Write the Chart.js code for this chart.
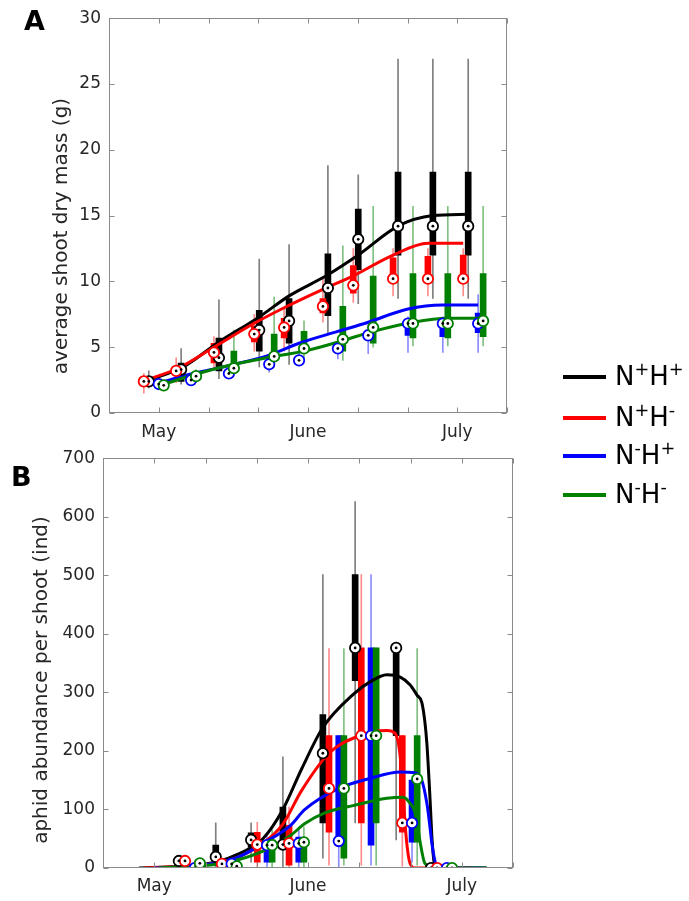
<!DOCTYPE html>
<html>
<head>
<meta charset="utf-8">
<title>Shoot mass and aphid abundance</title>
<script src="https://cdn.jsdelivr.net/npm/chart.js@4.4.1/dist/chart.umd.min.js"></script>
<style>
  body { margin: 0; background: #fff; }
  #page { position: relative; width: 689px; height: 901px; overflow: hidden; font-family: "DejaVu Sans", sans-serif; }
  canvas { position: absolute; left: 0; }
  .panel { position: absolute; font-weight: bold; font-size: 27px; color: #000; line-height: 1; }
  .key { position: absolute; left: 563px; width: 43px; height: 4px; }
  .keytext { position: absolute; left: 615px; font-size: 26px; line-height: 1; color: #000; white-space: nowrap; }
  .keytext sup { font-size: 0.68em; vertical-align: 0.55em; line-height: 0; }
</style>
</head>
<body>
<div id="page">
  <canvas id="massChart" width="689" height="450" style="top:0"></canvas>
  <canvas id="aphidChart" width="689" height="461" style="top:440px"></canvas>
  <div class="panel" style="left:24px; top:7px">A</div>
  <div class="panel" style="left:11px; top:463px">B</div>
  <div id="legend"></div>
</div>
<script>
// ---- data ----
const legendLabels = ['N<sup>+</sup>H<sup>+</sup>', 'N<sup>+</sup>H<sup>-</sup>', 'N<sup>-</sup>H<sup>+</sup>', 'N<sup>-</sup>H<sup>-</sup>'];
const monthLabels = ['', 'May', '', '', 'June', '', '', 'July', ''];

// A: shoot dry mass, each box is [low whisker, q1, median, q3, high whisker]
const massDates = [0.80, 1.45, 2.21, 3.02, 3.62, 4.40, 5.01, 5.81, 6.51, 7.22];
const massNpHp = [
  [1.9, 2.2, 2.4, 2.7, 3.2], [2.2, 2.4, 3.3, 3.8, 4.9], [2.6, 3.2, 4.2, 5.7, 8.6],
  [3.5, 4.7, 6.3, 7.8, 11.7], [3.7, 5.3, 7.0, 8.7, 12.8], [6.1, 7.4, 9.5, 12.1, 18.8],
  [8.3, 10.9, 13.2, 15.5, 18.1], [8.7, 12.0, 14.2, 18.3, 26.9], [8.7, 12.0, 14.2, 18.3, 26.9],
  [8.7, 12.0, 14.2, 18.3, 26.9]
];
const massNpHm = [
  [1.5, 2.2, 2.4, 2.6, 3.0], [2.3, 3.0, 3.2, 3.5, 4.2], [3.3, 3.8, 4.6, 5.3, 5.8],
  [4.7, 5.4, 6.0, 6.6, 7.5], [4.7, 5.7, 6.5, 7.2, 8.0], [6.9, 7.6, 8.1, 8.7, 10.2],
  [8.4, 9.1, 9.7, 11.2, 12.5], [8.9, 10.2, 10.2, 11.8, 12.5], [8.9, 10.2, 10.2, 11.9, 12.5],
  [8.9, 10.2, 10.2, 12.0, 12.5]
];
const massNmHp = [
  [2.0, 2.1, 2.2, 2.4, 2.6], [2.2, 2.4, 2.5, 2.7, 2.9], [2.6, 2.8, 3.0, 3.2, 3.5],
  [3.1, 3.4, 3.7, 3.9, 4.3], [3.6, 3.8, 4.0, 4.3, 4.7], [4.1, 4.6, 4.9, 5.2, 5.5],
  [4.5, 5.6, 5.9, 6.3, 6.9], [4.6, 5.9, 6.8, 6.8, 7.3], [4.6, 5.8, 6.8, 6.8, 7.3],
  [4.6, 6.1, 6.8, 7.6, 9.0]
];
const massNmHm = [
  [1.9, 2.0, 2.1, 2.3, 2.5], [2.3, 2.5, 2.8, 3.0, 3.3], [2.9, 3.2, 3.4, 4.7, 6.3],
  [3.5, 4.3, 4.3, 6.0, 8.8], [4.0, 4.7, 4.9, 6.2, 7.0], [4.0, 4.7, 5.6, 8.1, 12.7],
  [5.0, 5.3, 6.5, 10.4, 15.7], [5.1, 5.7, 6.8, 10.6, 15.7], [5.1, 5.7, 6.8, 10.6, 15.7],
  [5.1, 5.8, 7.0, 10.6, 15.7]
];
// fitted curves, [x, y]
const massFitNpHp = [[0.72, 2.4], [1.49, 3.5], [2.21, 5.4], [3.02, 7.3], [3.62, 8.9], [4.40, 10.5], [5.01, 12.0], [5.81, 14.2], [6.51, 15.0], [7.22, 15.1]];
const massFitNpHm = [[0.66, 2.4], [1.39, 3.4], [2.11, 5.0], [2.91, 6.8], [3.52, 8.0], [4.30, 9.4], [4.90, 10.4], [5.71, 12.0], [6.41, 12.9], [7.12, 12.9]];
const massFitNmHp = [[1.01, 2.3], [1.69, 3.0], [2.41, 3.6], [3.22, 4.4], [3.82, 5.3], [4.60, 6.2], [5.21, 6.9], [6.01, 7.9], [6.71, 8.2], [7.42, 8.2]];
const massFitNmHm = [[1.11, 2.2], [1.79, 3.0], [2.51, 3.7], [3.32, 4.3], [3.92, 4.7], [4.70, 5.5], [5.31, 6.2], [6.11, 6.9], [6.81, 7.2], [7.52, 7.2]];

// B: aphids per shoot
const aphidDates = [1.48, 2.20, 2.89, 3.51, 4.29, 4.92, 5.72, 6.40];
const aphidNpHp = [
  [3, 6, 12, 14, 16], [0, 10, 19, 39, 77], [10, 35, 48, 60, 77], [0, 39, 40, 104, 190],
  [17, 77, 196, 262, 501], [77, 320, 376, 501, 626], [48, 226, 376, 376, 376], [0, 0, 0, 0, 0]
];
const aphidNpHm = [
  [5, 8, 12, 14, 16], [2, 5, 7, 10, 12], [2, 10, 40, 61, 78], [0, 5, 42, 73, 104],
  [5, 61, 136, 226, 375], [5, 77, 226, 376, 501], [3, 61, 77, 226, 226], [0, 0, 0, 0, 0]
];
const aphidNmHp = [
  [0, 0, 0, 2, 4], [2, 5, 7, 10, 12], [0, 10, 39, 44, 55], [2, 10, 42, 53, 70],
  [0, 39, 46, 226, 226], [5, 39, 226, 376, 501], [10, 44, 77, 150, 150], [0, 0, 0, 0, 0]
];
const aphidNmHm = [
  [3, 5, 8, 10, 12], [0, 2, 3, 5, 8], [0, 10, 39, 48, 65], [2, 10, 44, 48, 70],
  [5, 17, 136, 226, 375], [5, 77, 226, 376, 376], [5, 44, 152, 226, 375], [0, 0, 0, 0, 0]
];
const aphidFitNpHp = [[0.70, 0], [1.50, 3], [2.19, 10], [2.67, 25], [3.12, 50], [3.51, 100], [3.88, 170], [4.29, 240], [4.90, 298], [5.21, 318], [5.54, 330], [5.80, 326], [5.99, 313], [6.13, 295], [6.22, 283], [6.28, 250], [6.32, 212], [6.38, 120], [6.42, 50], [6.46, 10], [6.52, 0], [7.49, 0]];
const aphidFitNpHm = [[0.80, 0], [1.50, 3], [2.19, 8], [2.67, 20], [3.12, 42], [3.51, 75], [3.88, 133], [4.41, 196], [5.01, 226], [5.54, 235], [5.70, 230], [5.80, 190], [5.85, 130], [5.89, 80], [5.93, 40], [5.99, 8], [6.09, 0], [7.20, 0]];
const aphidFitNmHp = [[1.01, 0], [1.50, 2], [2.19, 8], [2.67, 20], [3.12, 42], [3.65, 72], [3.94, 100], [4.60, 136], [5.21, 153], [5.80, 164], [6.05, 163], [6.22, 150], [6.32, 110], [6.38, 70], [6.42, 40], [6.50, 5], [6.58, 0], [7.45, 0]];
const aphidFitNmHm = [[1.09, 0], [1.50, 2], [2.19, 6], [2.67, 15], [3.12, 29], [3.65, 55], [3.94, 76], [4.33, 94], [4.90, 107], [5.54, 119], [5.85, 121], [5.99, 111], [6.09, 94], [6.15, 65], [6.19, 43], [6.28, 8], [6.44, 2], [6.58, 0], [7.49, 0]];

// ---- style ----
const lineColors = ['#000000', '#ff0000', '#0000ff', '#008000'];
const whiskerColors = ['#7f7f7f', '#ff8c8c', '#8c8cff', '#80c080'];
const offsetA = [0, -0.1, 0.2, 0.3];
const offsetB = [0, 0.12, 0.31, 0.41];
const axisColor = '#8a8a8a';

Chart.defaults.font.family = '"DejaVu Sans"';
Chart.defaults.font.size = 17;
Chart.defaults.color = '#262626';

// MATLAB-like box: frame on all sides, ticks pointing inwards, rotated y label
const matlabFrame = {
  id: 'matlabFrame',
  afterDraw(chart, args, opts) {
    const { ctx, chartArea: a, scales } = chart;
    const L = Math.round(a.left) + 0.5, R = Math.round(a.right) - 0.5;
    const T = Math.round(a.top) + 0.5, B = Math.round(a.bottom) - 0.5;
    ctx.save();
    ctx.strokeStyle = axisColor;
    ctx.lineWidth = 1;
    ctx.strokeRect(L, T, R - L, B - T);
    ctx.beginPath();
    scales.x.ticks.forEach(t => {
      const px = Math.round(scales.x.getPixelForValue(t.value)) + 0.5;
      ctx.moveTo(px, B); ctx.lineTo(px, B - 5);
      ctx.moveTo(px, T); ctx.lineTo(px, T + 5);
    });
    scales.y.ticks.forEach(t => {
      const py = Math.round(scales.y.getPixelForValue(t.value)) + 0.5;
      ctx.moveTo(L, py); ctx.lineTo(L + 5, py);
      ctx.moveTo(R, py); ctx.lineTo(R - 5, py);
    });
    ctx.stroke();
    ctx.fillStyle = '#262626';
    ctx.font = '20px "DejaVu Sans"';
    ctx.translate(opts.titleX, opts.titleY);
    ctx.rotate(-Math.PI / 2);
    ctx.textAlign = 'center';
    ctx.textBaseline = 'middle';
    ctx.fillText(opts.title, 0, 0);
    ctx.restore();
  }
};

function buildDatasets(dates, boxes, fits, offsets) {
  const sets = [];
  boxes.forEach((rows, g) => {
    const xs = dates.map(d => d + offsets[g]);
    sets.push({
      type: 'bar', grouped: false, barThickness: 1, maxBarThickness: 1,
      backgroundColor: whiskerColors[g], order: 43 - g,
      data: rows.map((r, i) => ({ x: xs[i], y: [r[0], r[4]] }))
    });
    sets.push({
      type: 'bar', grouped: false, barThickness: 6, maxBarThickness: 6,
      backgroundColor: lineColors[g], order: 33 - g,
      data: rows.map((r, i) => ({ x: xs[i], y: [r[1], r[3]] }))
    });
    sets.push({
      type: 'line', borderColor: lineColors[g], borderWidth: 3, pointRadius: 0,
      cubicInterpolationMode: 'monotone', fill: false, order: 23 - g,
      data: fits[g].map(p => ({ x: p[0], y: p[1] }))
    });
    sets.push({
      type: 'scatter', pointRadius: 5.2, borderWidth: 1.8, borderColor: lineColors[g],
      backgroundColor: '#ffffff', order: 13 - g,
      data: rows.map((r, i) => ({ x: xs[i], y: r[2] }))
    });
    sets.push({
      type: 'scatter', pointRadius: 1.4, borderWidth: 0, backgroundColor: '#000000', order: 3 - g,
      data: rows.map((r, i) => ({ x: xs[i], y: r[2] }))
    });
  });
  return sets;
}

function makeChart(id, datasets, cfg) {
  return new Chart(document.getElementById(id), {
    type: 'scatter',
    data: { datasets: datasets },
    plugins: [matlabFrame],
    options: {
      responsive: false,
      animation: false,
      layout: { padding: cfg.padding },
      plugins: {
        legend: { display: false },
        tooltip: { enabled: false },
        matlabFrame: { title: cfg.title, titleX: cfg.titleX, titleY: cfg.titleY }
      },
      scales: {
        x: {
          type: 'linear', min: 0, max: 8, offset: false,
          grid: { display: false, drawTicks: false }, border: { display: false },
          ticks: { stepSize: 1, autoSkip: false, maxRotation: 0, padding: cfg.xPad, callback: v => monthLabels[v] },
          afterFit: s => { s.height = cfg.xHeight; }
        },
        y: {
          type: 'linear', min: 0, max: cfg.yMax,
          grid: { display: false, drawTicks: false }, border: { display: false },
          ticks: { stepSize: cfg.yStep, padding: 8 },
          afterFit: s => { s.width = cfg.yWidth; }
        }
      }
    }
  });
}

makeChart('massChart',
  buildDatasets(massDates, [massNpHp, massNpHm, massNmHp, massNmHm],
    [massFitNpHp, massFitNpHm, massFitNmHp, massFitNmHm], offsetA),
  { padding: { top: 15, right: 182, left: 0, bottom: 0 }, yWidth: 109, xHeight: 37, xPad: 9,
    yMax: 30, yStep: 5, title: 'average shoot dry mass (g)', titleX: 62, titleY: 236 });

makeChart('aphidChart',
  buildDatasets(aphidDates, [aphidNpHp, aphidNpHm, aphidNmHp, aphidNmHm],
    [aphidFitNpHp, aphidFitNpHm, aphidFitNmHp, aphidFitNmHm], offsetB),
  { padding: { top: 17, right: 176, left: 0, bottom: 0 }, yWidth: 103, xHeight: 33, xPad: 8,
    yMax: 700, yStep: 100, title: 'aphid abundance per shoot (ind)', titleX: 42, titleY: 240 });

// legend
const legendRows = [377, 418, 456, 495];
const legend = document.getElementById('legend');
legendLabels.forEach((label, g) => {
  const key = document.createElement('div');
  key.className = 'key';
  key.style.top = (legendRows[g] - 2) + 'px';
  key.style.background = lineColors[g];
  legend.appendChild(key);
  const txt = document.createElement('div');
  txt.className = 'keytext';
  txt.style.top = (legendRows[g] - 14) + 'px';
  txt.innerHTML = label;
  legend.appendChild(txt);
});
</script>
</body>
</html>
